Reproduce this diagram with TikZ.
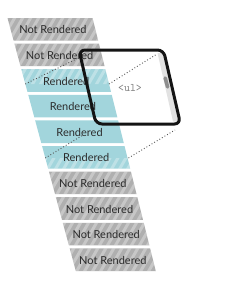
\documentclass[tikz,border=0pt]{standalone}
\usepackage{fontspec}
\usetikzlibrary{calc}
\setmainfont{Lato}
\definecolor{grayrow}{HTML}{AFAFAF}
\definecolor{tealrow}{HTML}{A2D5DC}
\definecolor{rowtextcol}{HTML}{2C2C2C}
\definecolor{dotcol}{HTML}{555555}
\definecolor{scrolltrack}{HTML}{E2E2E2}
\definecolor{scrollthumb}{HTML}{8E8E8E}
\definecolor{tagcol}{HTML}{7A7A7A}
\tikzset{
  rowtext/.style={inner sep=0pt, text=rowtextcol, font=\fontsize{11}{12}\selectfont},
  stripeline/.style={white, opacity=0.3, line width=3pt},
  guide/.style={dotcol, line width=0.9pt, dash pattern=on 0.9pt off 2.1pt},
  viewframe/.style={black!92, line width=3pt, rounded corners=6pt, line join=round},
  tagtext/.style={inner sep=0pt, text=tagcol, font=\ttfamily\fontsize{11.5}{12}\selectfont}
}
\begin{document}
\begin{tikzpicture}[x=1pt,y=-1pt]
\useasboundingbox (0,0) rectangle (234,289);
\foreach \k/\lab/\col in {0/Not Rendered/grayrow,1/Not Rendered/grayrow,2/Rendered/tealrow,3/Rendered/tealrow,4/Rendered/tealrow,5/Rendered/tealrow,6/Not Rendered/grayrow,7/Not Rendered/grayrow,8/Not Rendered/grayrow,9/Not Rendered/grayrow}{
  \pgfmathsetmacro\t{18+25.6*\k}
  \pgfmathsetmacro\b{\t+22.6}
  \pgfmathsetmacro\lt{7.5+0.27*(\t-18)}
  \pgfmathsetmacro\lb{7.5+0.27*(\b-18)}
  \pgfmathsetmacro\rt{92.5+0.25*(\t-18)}
  \pgfmathsetmacro\rb{92.5+0.25*(\b-18)}
  \fill[\col] (\lt,\t) -- (\rt,\t) -- (\rb,\b) -- (\lb,\b) -- cycle;
  \begin{scope}
    \clip (\lt,\t) -- (\rt,\t) -- (\rb,\b) -- (\lb,\b) -- cycle;
    \clip (0,0) rectangle (234,84) (0,158) rectangle (234,289);
    \foreach \s in {-180,-172,...,250}{
      \draw[stripeline] (\s,300) -- ++(173,-300);
    }
  \end{scope}
  \node[rowtext] (row\k) at ({(\lt+\rt+\lb+\rb)/4},{(\t+\b)/2+0.5}) {\lab};
}
% guide points on the list
\coordinate (p1) at (25.3,84);
\coordinate (p2) at (109,84);
\coordinate (p3) at (45.3,158);
\coordinate (p4) at (128.5,158);
\coordinate (e1) at (80.5,57);
\coordinate (e2) at (157,54);
\coordinate (e3) at (83,135);
\coordinate (e4) at (175,130);
\draw[guide] (p1) -- (e1);
\draw[guide] (p2) -- (e2);
\draw[guide] (p3) -- (e3);
\draw[guide] (p4) -- (e4);
% viewport
\coordinate (ftl) at (79,50);
\coordinate (ftr) at (163.5,50);
\coordinate (fbr) at (180.5,124);
\coordinate (fbl) at (96,124);
\fill[scrolltrack] (157.5,53) -- (162.8,53) -- (178.4,121.5) -- (173,121.5) -- cycle;
\draw[scrollthumb, line width=3.6pt, line cap=round] (165.2,78) -- (167.6,87);
\node[tagtext] (tag) at (130,88) {<ul>};
\draw[viewframe] ($(ftl)!0.5!(ftr)$) -- (ftr) -- (fbr) -- (fbl) -- (ftl) -- cycle;
\end{tikzpicture}
\end{document}
